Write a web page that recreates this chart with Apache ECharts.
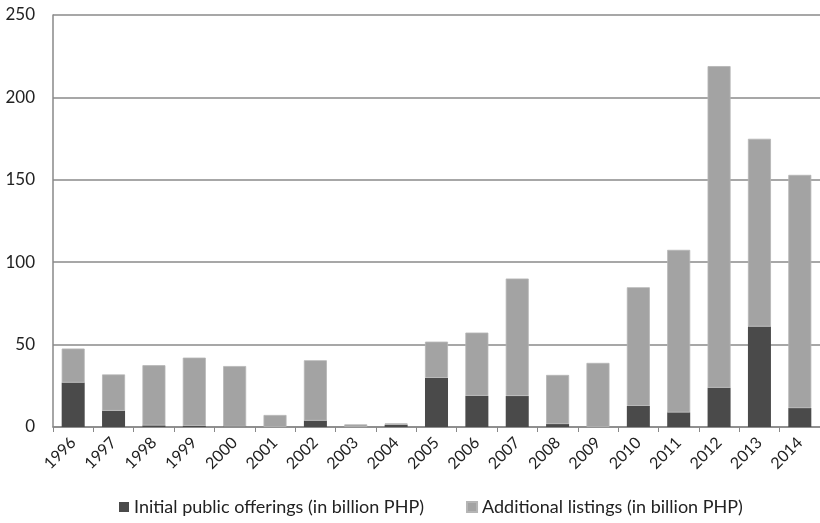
<!DOCTYPE html>
<html>
<head>
<meta charset="utf-8">
<script src="https://cdn.jsdelivr.net/npm/echarts@6/dist/echarts.min.js"></script>
<style>
  html, body { margin: 0; padding: 0; background: #fff; }
  #chart { width: 820px; height: 523px; }
</style>
</head>
<body>
<div id="chart"></div>
<script>
// years on the x axis
var years = ['1996', '1997', '1998', '1999', '2000', '2001', '2002', '2003', '2004', '2005',
             '2006', '2007', '2008', '2009', '2010', '2011', '2012', '2013', '2014'];
// IPOs, billion PHP
var ipo = [27, 9.9, 1, 0.8, 0.3, 0, 3.9, 0, 1.4, 29.8, 19, 18.8, 1.8, 0, 12.8, 8.9, 23.9, 61, 11.5];
// additional listings, billion PHP
var additional = [20.6, 22, 36.5, 41.3, 36.7, 7.3, 36.6, 1.6, 0.8, 22, 38.3, 71.3, 29.8, 38.9, 72, 98.6, 195.1, 113.9, 141.5];
var yTicks = [0, 50, 100, 150, 200, 250];

var chart = echarts.init(document.getElementById('chart'));
var font = 'Lato, "Open Sans", sans-serif';

var option = {
  animation: false,
  grid: { left: 53, right: 0, top: 15, bottom: 96 },
  legend: {
    bottom: 2,
    left: 114,
    itemWidth: 10,
    itemHeight: 10,
    itemGap: 42,
    icon: 'rect',
    textStyle: { fontFamily: font, fontSize: 18, color: '#222' },
    data: ['Initial public offerings (in billion PHP)', 'Additional listings (in billion PHP)']
  },
  xAxis: {
    type: 'category',
    data: years,
    axisLine: { lineStyle: { color: '#888', width: 1.5 } },
    axisTick: { show: true, length: 5, lineStyle: { color: '#888' } },
    axisLabel: { rotate: 45, fontFamily: font, fontSize: 16, color: '#222', margin: 13, interval: 0 }
  },
  yAxis: {
    type: 'value',
    min: yTicks[0],
    max: yTicks[yTicks.length - 1],
    interval: 50,
    axisLine: { show: true, lineStyle: { color: '#888', width: 1.5 } },
    axisTick: { show: false },
    splitLine: { lineStyle: { color: '#8a8a8a', width: 1.5 } },
    axisLabel: { fontFamily: font, fontSize: 17, color: '#222', margin: 18 }
  },
  series: [
    {
      name: 'Initial public offerings (in billion PHP)',
      type: 'bar',
      stack: 'total',
      barWidth: '57%',
      data: ipo,
      itemStyle: { color: '#4a4a4a' }
    },
    {
      name: 'Additional listings (in billion PHP)',
      type: 'bar',
      stack: 'total',
      barWidth: '57%',
      data: additional,
      itemStyle: { color: '#a3a3a3', borderColor: '#b5b5b5', borderWidth: 0.8 }
    }
  ]
};

chart.setOption(option);
</script>
</body>
</html>
